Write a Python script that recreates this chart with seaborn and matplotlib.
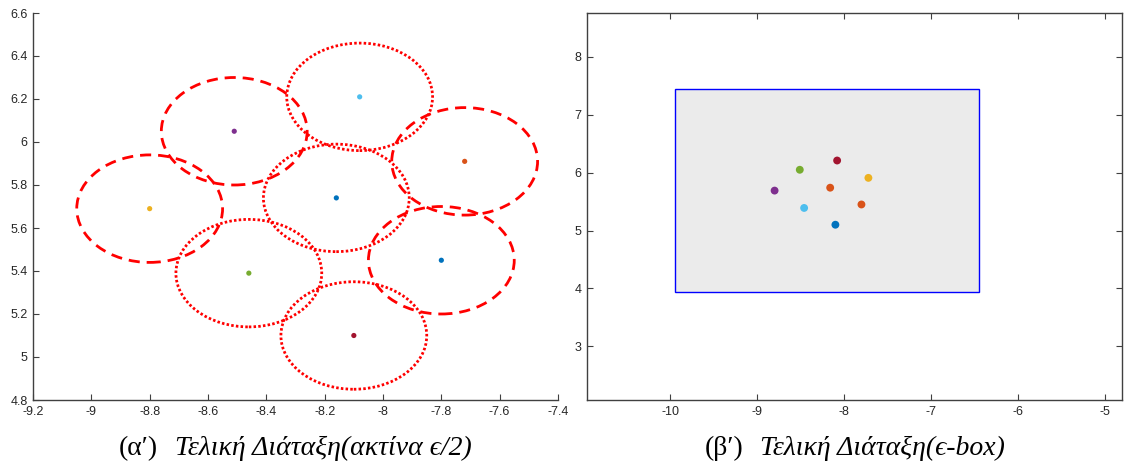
import matplotlib
matplotlib.use("Agg")
import matplotlib.pyplot as plt
import seaborn as sns
import pandas as pd
from matplotlib.patches import Circle, Rectangle
from matplotlib.offsetbox import TextArea, HPacker, AnchoredOffsetbox

# ---- data ----
px = [-8.80, -8.51, -8.08, -7.72, -8.16, -8.46, -7.80, -8.10]
py = [5.69, 6.05, 6.21, 5.91, 5.74, 5.39, 5.45, 5.10]
left_colors = ["#EDB120", "#7E2F8E", "#4DBEEE", "#D95319", "#0072BD", "#77AC30", "#0072BD", "#A2142F"]
right_colors = ["#7E2F8E", "#77AC30", "#A2142F", "#EDB120", "#D95319", "#4DBEEE", "#D95319", "#0072BD"]
circle_styles = ["dashed", "dashed", "dotted", "dashed", "dotted", "dotted", "dashed", "dotted"]
epsilon = 0.5
box_x = [-9.95, -6.45]
box_y = [3.94, 7.45]
left_xticks = [-9.2, -9.0, -8.8, -8.6, -8.4, -8.2, -8.0, -7.8, -7.6, -7.4]
left_xticklabels = ["-9.2", "-9", "-8.8", "-8.6", "-8.4", "-8.2", "-8", "-7.8", "-7.6", "-7.4"]
left_yticks = [4.8, 5.0, 5.2, 5.4, 5.6, 5.8, 6.0, 6.2, 6.4, 6.6]
left_yticklabels = ["4.8", "5", "5.2", "5.4", "5.6", "5.8", "6", "6.2", "6.4", "6.6"]
right_xticks = [-10, -9, -8, -7, -6, -5]
right_yticks = [3, 4, 5, 6, 7, 8]
caption_left = ["(α′)", "Τελική Διάταξη(ακτίνα ϵ/2)"]
caption_right = ["(β′)", "Τελική Διάταξη(ϵ-box)"]

sns.set_style("white")
plt.rcParams["font.family"] = ["Liberation Sans", "DejaVu Sans"]

fig = plt.figure(figsize=(11.24, 4.73), dpi=100)
axL = fig.add_axes([33/1124, 1-400/473, (558-33)/1124, (400-13)/473])
axR = fig.add_axes([587/1124, 1-400/473, (1122-587)/1124, (400-13)/473])

spine_col = "#404040"
lab_col = "#262626"

# ---- left panel ----
dfL = pd.DataFrame({"x": px, "y": py, "id": [str(i) for i in range(len(px))]})
sns.scatterplot(data=dfL, x="x", y="y", hue="id", palette=left_colors, legend=False,
                s=14, edgecolor="none", ax=axL, zorder=3)
for x, y, ls in zip(px, py, circle_styles):
    if ls == "dashed":
        c = Circle((x, y), epsilon/2, fill=False, edgecolor="red", lw=2.0,
                   linestyle=(0, (4.0, 2.5)))
    else:
        c = Circle((x, y), epsilon/2, fill=False, edgecolor="red", lw=2.0,
                   linestyle=(0, (0.9, 0.8)))
    axL.add_patch(c)
axL.set_xlim(-9.2, -7.4)
axL.set_ylim(4.8, 6.6)
axL.set_xticks(left_xticks)
axL.set_xticklabels(left_xticklabels)
axL.set_yticks(left_yticks)
axL.set_yticklabels(left_yticklabels)
for s in ["top", "right"]:
    axL.spines[s].set_visible(False)
for s in ["left", "bottom"]:
    axL.spines[s].set_color(spine_col)
    axL.spines[s].set_linewidth(1.0)
axL.tick_params(direction="in", length=4, width=0.8, color=spine_col, labelsize=9,
                labelcolor=lab_col, pad=4, bottom=True, left=True)
axL.set_xlabel("")
axL.set_ylabel("")

# ---- right panel ----
axR.add_patch(Rectangle((box_x[0], box_y[0]), box_x[1]-box_x[0], box_y[1]-box_y[0],
                        facecolor="#ebebeb", edgecolor="blue", lw=1.0, zorder=1))
dfR = pd.DataFrame({"x": px, "y": py, "id": [str(i) for i in range(len(px))]})
sns.scatterplot(data=dfR, x="x", y="y", hue="id", palette=right_colors, legend=False,
                s=32, edgecolor="none", ax=axR, zorder=3)
axR.set_xlim(-10.96, -4.8)
axR.set_ylim(2.07, 8.76)
axR.set_xticks(right_xticks)
axR.set_yticks(right_yticks)
axR.set_xticklabels([str(v) for v in right_xticks])
axR.set_yticklabels([str(v) for v in right_yticks])
for s in ["top", "right", "left", "bottom"]:
    axR.spines[s].set_visible(True)
    axR.spines[s].set_color(spine_col)
    axR.spines[s].set_linewidth(1.0)
axR.tick_params(direction="in", length=4, width=0.8, color=spine_col, labelsize=9,
                labelcolor=lab_col, pad=4, bottom=True, left=True, top=True, right=True)
axR.set_xlabel("")
axR.set_ylabel("")

# ---- captions ----
def caption(ax, parts):
    fam = ["Liberation Serif", "DejaVu Serif"]
    t1 = TextArea(parts[0], textprops=dict(family=fam, fontsize=20, color="black"))
    t2 = TextArea(parts[1], textprops=dict(family=fam, fontsize=20, style="italic", color="black"))
    box = HPacker(children=[t1, t2], align="baseline", pad=0, sep=12)
    ab = AnchoredOffsetbox(loc="center", child=box, pad=0, frameon=False,
                           bbox_to_anchor=(0.5, -0.125), bbox_transform=ax.transAxes,
                           borderpad=0)
    ax.add_artist(ab)

caption(axL, caption_left)
caption(axR, caption_right)

fig.savefig("out.png", dpi=100)
